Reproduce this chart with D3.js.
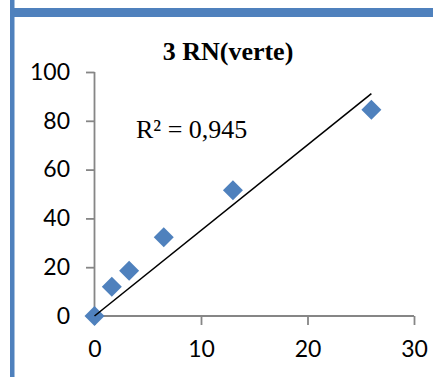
<!DOCTYPE html>
<html>
<head>
<meta charset="utf-8">
<script src="https://cdn.jsdelivr.net/npm/d3@7"></script>
<style>
  html, body { margin: 0; padding: 0; background: #fff; }
  svg { display: block; }
</style>
</head>
<body>
<svg id="chart" width="433" height="377"></svg>
<script>
// Measured series: dilution (x) vs response (y)
const xValues = [0, 1.625, 3.25, 6.5, 13, 26];
const yValues = [0, 12, 18.5, 32.3, 51.5, 84.5];
const xTicks = [0, 10, 20, 30];
const yTicks = [0, 20, 40, 60, 80, 100];
const chartTitle = "3 RN(verte)";
const r2Label = "R\u00b2 = 0,945";

const svg = d3.select("#chart");
const W = 433, H = 377;
const frameBlue = "#4f81bd";
const axisGray = "#868686";

// Frame: top band and left rule
svg.append("rect").attr("x", 10).attr("y", 8).attr("width", W - 10).attr("height", 9).attr("fill", frameBlue);
svg.append("rect").attr("x", 10).attr("y", 0).attr("width", 4.5).attr("height", H).attr("fill", frameBlue);

const x = d3.scaleLinear().domain([0, 30]).range([94.5, 414]);
const y = d3.scaleLinear().domain([0, 100]).range([316, 72]);

// Title
svg.append("text")
  .attr("x", 228).attr("y", 60)
  .attr("text-anchor", "middle")
  .attr("font-family", "'Liberation Serif', 'Times New Roman', serif")
  .attr("font-weight", "bold")
  .attr("font-size", 26)
  .text(chartTitle);

// Axes
const xAxis = d3.axisBottom(x).tickValues(xTicks).tickSize(9).tickPadding(16).tickFormat(d3.format("d"));
const yAxis = d3.axisLeft(y).tickValues(yTicks).tickSize(8.5).tickPadding(16).tickFormat(d3.format("d"));

function styleAxis(g) {
  g.select(".domain").attr("stroke", axisGray).attr("stroke-width", 1.8);
  g.selectAll(".tick line").attr("stroke", axisGray).attr("stroke-width", 1.8);
  g.selectAll(".tick text")
    .attr("fill", "#000")
    .attr("font-family", "Lato, 'Open Sans', sans-serif")
    .attr("font-size", 23);
}

const gx = svg.append("g").attr("transform", `translate(0,${y(0)})`).call(xAxis);
styleAxis(gx);
const gy = svg.append("g").attr("transform", `translate(${x(0)},0)`).call(yAxis);
styleAxis(gy);
// Plain axis lines; the end tick marks come from the tick values
gx.select(".domain").attr("d", `M${x(0)},0H${x(30)}`);
gy.select(".domain").attr("d", `M0,${y(100)}V${y(0)}`);

// Points
const pts = xValues.map((v, i) => ({ x: v, y: yValues[i] }));
const diamond = d3.symbol().type(d3.symbolSquare).size(200);
svg.append("g").selectAll("path")
  .data(pts)
  .join("path")
  .attr("d", diamond)
  .attr("fill", frameBlue)
  .attr("transform", d => `translate(${x(d.x)},${y(d.y)}) rotate(45)`);

// Linear trendline through the origin (least squares)
const sxy = d3.sum(pts, d => d.x * d.y);
const sxx = d3.sum(pts, d => d.x * d.x);
const slope = sxy / sxx;
const xMax = d3.max(xValues);
svg.append("line")
  .attr("x1", x(0)).attr("y1", y(0))
  .attr("x2", x(xMax)).attr("y2", y(slope * xMax))
  .attr("stroke", "#000").attr("stroke-width", 1.6);

// R² annotation
svg.append("text")
  .attr("x", 136).attr("y", 138)
  .attr("font-family", "'Liberation Serif', 'Times New Roman', serif")
  .attr("font-size", 26)
  .text(r2Label);
</script>
</body>
</html>
